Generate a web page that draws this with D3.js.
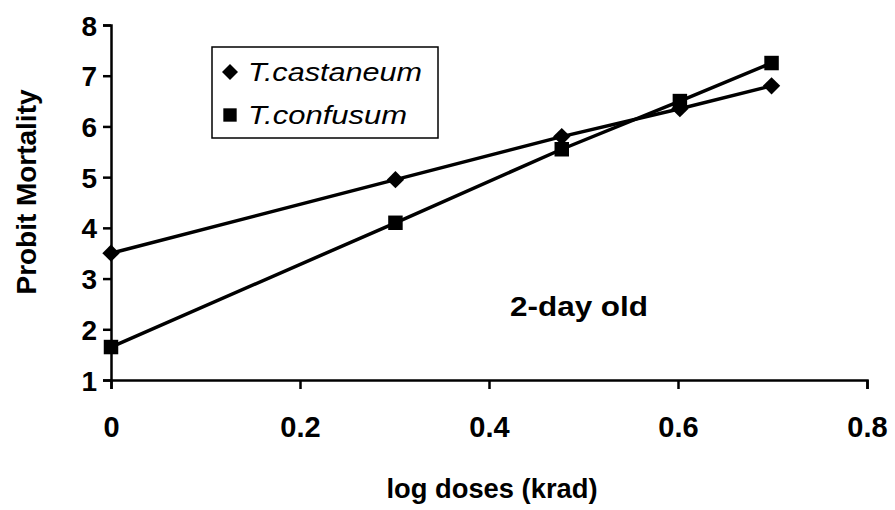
<!DOCTYPE html>
<html>
<head>
<meta charset="utf-8">
<script src="https://cdn.jsdelivr.net/npm/d3@7"></script>
<style>
  body { margin: 0; background: #fff; }
  svg { font-family: "Liberation Sans", Arial, sans-serif; }
</style>
</head>
<body>
<svg id="chart" width="895" height="510"></svg>
<script>
// log doses (krad)
var doses = [0, 0.301, 0.477, 0.602, 0.699];
var castaneum = [3.5, 4.95, 5.8, 6.35, 6.8];
var confusum = [1.65, 4.1, 5.55, 6.5, 7.25];
var xTicks = [0, 0.2, 0.4, 0.6, 0.8];
var yTicks = [1, 2, 3, 4, 5, 6, 7, 8];

var svg = d3.select("#chart");

var x = d3.scaleLinear().domain([0, 0.8]).range([111, 867]);
var y = d3.scaleLinear().domain([1, 8]).range([380, 25]);

// axes
var xAxis = svg.append("g")
	.attr("transform", "translate(0," + y(1) + ")")
	.call(d3.axisBottom(x).tickValues(xTicks).tickSize(9).tickPadding(27)
		.tickFormat(function(d) { return d === 0 ? "0" : d3.format(".1f")(d); }));

var yAxis = svg.append("g")
	.attr("transform", "translate(" + x(0) + ",0)")
	.call(d3.axisLeft(y).tickValues(yTicks).tickSize(8).tickPadding(6)
		.tickFormat(d3.format("d")));

[xAxis, yAxis].forEach(function(a) {
	a.select(".domain").attr("stroke", "#000").attr("stroke-width", 2.5);
	a.selectAll(".tick line").attr("stroke", "#000").attr("stroke-width", 2.5);
	a.selectAll(".tick text")
		.attr("fill", "#000")
		.style("font-weight", "bold");
});
xAxis.selectAll(".tick text").style("font-size", "29px");
yAxis.selectAll(".tick text").style("font-size", "28px").attr("dy", "0.36em");

// axis titles
svg.append("text")
	.attr("x", 492).attr("y", 498)
	.attr("text-anchor", "middle")
	.attr("textLength", 211).attr("lengthAdjust", "spacingAndGlyphs")
	.style("font-size", "27px").style("font-weight", "bold")
	.text("log doses (krad)");

svg.append("text")
	.attr("transform", "translate(36,192) rotate(-90)")
	.attr("text-anchor", "middle")
	.attr("textLength", 205).attr("lengthAdjust", "spacingAndGlyphs")
	.style("font-size", "28px").style("font-weight", "bold")
	.text("Probit Mortality");

// series
var line = d3.line()
	.x(function(d, i) { return x(doses[i]); })
	.y(function(d) { return y(d); });

var series = [
	{ name: "T.castaneum", values: castaneum, rot: 45, size: 150, width: 174 },
	{ name: "T.confusum", values: confusum, rot: 0, size: 210, width: 159 }
];

series.forEach(function(s) {
	svg.append("path")
		.datum(s.values)
		.attr("fill", "none")
		.attr("stroke", "#000")
		.attr("stroke-width", 3.5)
		.attr("d", line);

	svg.selectAll(null)
		.data(s.values)
		.enter()
		.append("path")
		.attr("d", d3.symbol().type(d3.symbolSquare).size(s.size))
		.attr("transform", function(d, i) {
			return "translate(" + x(doses[i]) + "," + y(d) + ") rotate(" + s.rot + ")";
		})
		.attr("fill", "#000");
});

// legend
var legend = svg.append("g").attr("transform", "translate(212,47)");
legend.append("rect")
	.attr("width", 226).attr("height", 91)
	.attr("fill", "#fff").attr("stroke", "#000").attr("stroke-width", 1.5);

series.forEach(function(s, i) {
	var row = legend.append("g").attr("transform", "translate(0," + (25 + i * 43) + ")");
	row.append("path")
		.attr("d", d3.symbol().type(d3.symbolSquare).size(s.size * 0.85))
		.attr("transform", "translate(18,0) rotate(" + s.rot + ")")
		.attr("fill", "#000");
	row.append("text")
		.attr("x", 36).attr("y", 9)
		.attr("textLength", s.width).attr("lengthAdjust", "spacingAndGlyphs")
		.style("font-size", "25px").style("font-style", "italic")
		.text(s.name);
});

// annotation
svg.append("text")
	.attr("x", 510).attr("y", 316)
	.attr("textLength", 138).attr("lengthAdjust", "spacingAndGlyphs")
	.style("font-size", "28px").style("font-weight", "bold")
	.text("2-day old");
</script>
</body>
</html>
